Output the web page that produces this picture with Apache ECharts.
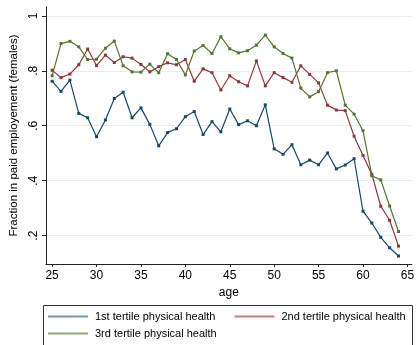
<!DOCTYPE html>
<html>
<head>
<meta charset="utf-8">
<script src="https://cdn.jsdelivr.net/npm/echarts@6/dist/echarts.min.js"></script>
<style>
  html, body { margin: 0; padding: 0; background: #ffffff; }
  #chart { width: 417px; height: 345px; }
</style>
</head>
<body>
<div id="chart"></div>
<script>
// Employment rate of women by age, split by tertile of physical health
const ages = [];
for (let a = 25; a <= 64; a++) ages.push(a);

const tertile1 = [0.762, 0.725, 0.766, 0.645, 0.629, 0.560, 0.621, 0.699, 0.722, 0.629,
                  0.665, 0.605, 0.527, 0.575, 0.589, 0.633, 0.652, 0.568, 0.615, 0.578,
                  0.661, 0.604, 0.618, 0.600, 0.676, 0.516, 0.496, 0.531, 0.458, 0.475,
                  0.458, 0.501, 0.443, 0.457, 0.480, 0.289, 0.246, 0.194, 0.156, 0.126];
const tertile2 = [0.802, 0.775, 0.788, 0.822, 0.879, 0.819, 0.857, 0.830, 0.851, 0.846,
                  0.823, 0.796, 0.815, 0.829, 0.822, 0.841, 0.762, 0.807, 0.793, 0.730,
                  0.782, 0.760, 0.745, 0.836, 0.745, 0.793, 0.775, 0.758, 0.818, 0.787,
                  0.756, 0.675, 0.657, 0.655, 0.562, 0.492, 0.423, 0.307, 0.256, 0.162];
const tertile3 = [0.782, 0.899, 0.907, 0.887, 0.841, 0.842, 0.882, 0.908, 0.818, 0.796,
                  0.795, 0.824, 0.793, 0.862, 0.841, 0.785, 0.872, 0.892, 0.863, 0.924,
                  0.880, 0.865, 0.873, 0.893, 0.930, 0.887, 0.863, 0.846, 0.737, 0.705,
                  0.724, 0.793, 0.800, 0.675, 0.642, 0.582, 0.418, 0.403, 0.308, 0.215];

const xTicks = [25, 30, 35, 40, 45, 50, 55, 60, 65];
const yTicks = [0.2, 0.4, 0.6, 0.8, 1];

const names = ['1st tertile physical health', '2nd tertile physical health', '3rd tertile physical health'];
const colors = ['#1a476f', '#90353b', '#55752f'];
const keyColors = ['#7894b0', '#c08288', '#93aa78'];
const seriesData = [tertile1, tertile2, tertile3];

const FONT = 'Liberation Sans, Arial, sans-serif';
const AXIS_COLOR = '#222222';

const chart = echarts.init(document.getElementById('chart'), null, { renderer: 'canvas' });

const keyItem = i => ({ name: names[i], itemStyle: { color: keyColors[i] } });
const legendBase = {
  icon: 'rect', itemWidth: 40, itemHeight: 2,
  textStyle: { color: '#000', fontSize: 11, fontFamily: FONT, padding: [0, 0, 0, 2] },
  padding: 0
};

chart.setOption({
  backgroundColor: '#ffffff',
  animation: false,
  textStyle: { fontFamily: FONT },
  grid: { left: 39.5, top: 7, width: 375, height: 257, containLabel: false },
  xAxis: {
    type: 'value',
    min: 24.3,
    max: 65.5,
    name: 'age',
    nameLocation: 'middle',
    nameGap: 20,
    nameTextStyle: { color: '#000', fontSize: 12, fontFamily: FONT },
    axisLine: { show: true, lineStyle: { color: AXIS_COLOR, width: 1 } },
    axisTick: { show: true, length: 3, lineStyle: { color: AXIS_COLOR }, customValues: xTicks },
    axisLabel: { color: '#000', fontSize: 12, margin: 6, customValues: xTicks, fontFamily: FONT },
    splitLine: { show: false }
  },
  yAxis: {
    type: 'value',
    min: 0.097,
    max: 1.032,
    name: 'Fraction in paid employement (females)',
    nameLocation: 'middle',
    nameGap: 22,
    nameRotate: 90,
    nameTextStyle: { color: '#000', fontSize: 11.5, fontFamily: FONT },
    axisLine: { show: true, lineStyle: { color: AXIS_COLOR, width: 1 } },
    axisTick: { show: true, length: 4, lineStyle: { color: AXIS_COLOR }, customValues: yTicks },
    axisLabel: {
      color: '#000', fontSize: 12, rotate: 90, margin: 6, customValues: yTicks, fontFamily: FONT,
      formatter: v => (Math.abs(v - 1) < 1e-9 ? '1' : String(Math.round(v * 10) / 10).replace(/^0/, ''))
    },
    splitLine: { show: true, lineStyle: { color: '#e6eff1', width: 1 } }
  },
  legend: [
    Object.assign({ data: [keyItem(0), keyItem(1)], left: 48, top: 311, itemGap: 19 }, legendBase),
    Object.assign({ data: [keyItem(2)], left: 48, top: 328 }, legendBase)
  ],
  graphic: [{
    type: 'rect',
    shape: { x: 43.5, y: 305.5, width: 369, height: 45 },
    style: { fill: 'none', stroke: '#333333', lineWidth: 1 },
    silent: true
  }],
  series: seriesData.map((vals, i) => ({
    name: names[i],
    type: 'line',
    data: ages.map((a, k) => [a, vals[k]]),
    color: colors[i],
    symbol: 'rect',
    symbolSize: 3,
    showAllSymbol: true,
    lineStyle: { width: 1.2, color: colors[i] },
    itemStyle: { color: colors[i] },
    emphasis: { disabled: true }
  }))
});
</script>
</body>
</html>
